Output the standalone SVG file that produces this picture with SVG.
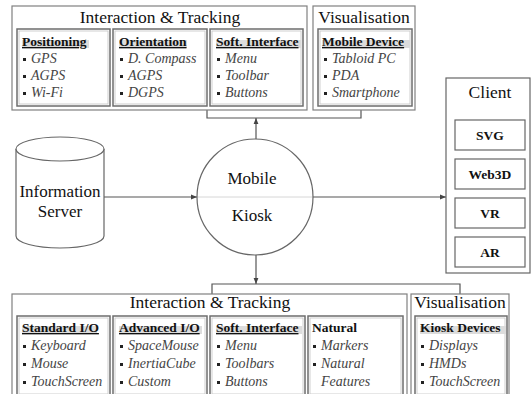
<svg xmlns="http://www.w3.org/2000/svg" width="531" height="394" viewBox="0 0 531 394" font-family="Liberation Serif, DejaVu Serif, serif">
<style>
text{font-family:'Liberation Serif','DejaVu Serif',serif;fill:#111}
.title{font-size:17.5px;text-anchor:middle}
.big{font-size:17px;text-anchor:middle}
.hd{font-size:13.5px;font-weight:bold;text-decoration:underline}
.it{font-size:14px;font-style:italic;fill:#444}
.cl{font-size:13.5px;font-weight:bold;text-anchor:middle}
.box{fill:#fff;stroke:#808080;stroke-width:1.2}
.cell{fill:none;stroke:#6e6e6e;stroke-width:1.5}
.cell2{fill:none;stroke:#c4c4c4;stroke-width:0.8}
.shade{fill:#dcdcdc}
.bul{fill:#222}
.ln{fill:none;stroke:#555;stroke-width:1.2}
.plain{fill:#fff;stroke:#666;stroke-width:1.2}
</style>
<defs>
<marker id="ah" viewBox="0 0 6 6" refX="6" refY="3" markerWidth="6" markerHeight="6" markerUnits="userSpaceOnUse" orient="auto">
<path d="M0,0.6 L6,3 L0,5.4 z" fill="#444"/>
</marker>
</defs>

<g id="connectors">
<line class="ln" x1="104" y1="197" x2="197" y2="197" marker-end="url(#ah)"/>
<line x1="197" y1="197" x2="313" y2="197" stroke="#d6d6d6" stroke-width="1"/>
<line class="ln" x1="313" y1="197" x2="446" y2="197" marker-end="url(#ah)"/>
<line class="ln" x1="256" y1="139" x2="256" y2="118" marker-end="url(#ah)"/>
<polyline class="ln" points="207,110 207,118 361,118 361,110"/>
<line class="ln" x1="256" y1="255" x2="256" y2="284" marker-end="url(#ah)"/>
<polyline class="ln" points="212,294 212,284 460,284 460,295"/>
</g>

<g id="top-interaction">
<rect class="box" x="12" y="6" width="295" height="104"/>
<text class="title" x="160" y="23">Interaction &amp; Tracking</text>
<g id="positioning">
<rect class="cell" x="17" y="29" width="93" height="77"/>
<rect class="cell2" x="19" y="31" width="89" height="73"/>
<rect class="shade" x="22" y="40" width="67" height="8"/>
<text class="hd" x="22" y="46">Positioning</text>
<rect class="bul" x="23" y="58" width="3" height="3"/><text class="it" x="31" y="63">GPS</text>
<rect class="bul" x="23" y="75" width="3" height="3"/><text class="it" x="31" y="80">AGPS</text>
<rect class="bul" x="23" y="92" width="3" height="3"/><text class="it" x="31" y="97">Wi-Fi</text>
</g>
<g id="orientation">
<rect class="cell" x="113" y="29" width="94" height="77"/>
<rect class="cell2" x="115" y="31" width="90" height="73"/>
<rect class="shade" x="119" y="40" width="68" height="8"/>
<text class="hd" x="119" y="46">Orientation</text>
<rect class="bul" x="120" y="58" width="3" height="3"/><text class="it" x="128" y="63">D. Compass</text>
<rect class="bul" x="120" y="75" width="3" height="3"/><text class="it" x="128" y="80">AGPS</text>
<rect class="bul" x="120" y="92" width="3" height="3"/><text class="it" x="128" y="97">DGPS</text>
</g>
<g id="soft-interface-top">
<rect class="cell" x="210" y="29" width="93" height="77"/>
<rect class="cell2" x="212" y="31" width="89" height="73"/>
<rect class="shade" x="216" y="40" width="85" height="8"/>
<text class="hd" x="216" y="46">Soft. Interface</text>
<rect class="bul" x="217" y="58" width="3" height="3"/><text class="it" x="225" y="63">Menu</text>
<rect class="bul" x="217" y="75" width="3" height="3"/><text class="it" x="225" y="80">Toolbar</text>
<rect class="bul" x="217" y="92" width="3" height="3"/><text class="it" x="225" y="97">Buttons</text>
</g>
</g>

<g id="top-visualisation">
<rect class="box" x="313" y="6" width="102" height="104"/>
<text class="title" x="364" y="23">Visualisation</text>
<g id="mobile-device">
<rect class="cell" x="318" y="29" width="94" height="77"/>
<rect class="cell2" x="320" y="31" width="90" height="73"/>
<rect class="shade" x="322" y="40" width="88" height="8"/>
<text class="hd" x="322" y="46">Mobile Device</text>
<rect class="bul" x="324" y="58" width="3" height="3"/><text class="it" x="332" y="63">Tabloid PC</text>
<rect class="bul" x="324" y="75" width="3" height="3"/><text class="it" x="332" y="80">PDA</text>
<rect class="bul" x="324" y="92" width="3" height="3"/><text class="it" x="332" y="97">Smartphone</text>
</g>
</g>

<g id="information-server">
<path class="plain" d="M16,149 L16,236 A44,12 0 0 0 104,236 L104,149"/>
<ellipse class="plain" cx="60" cy="149" rx="44" ry="12"/>
<text class="big" x="60" y="197">Information</text>
<text class="big" x="60" y="217">Server</text>
</g>

<g id="mobile-kiosk">
<circle fill="none" stroke="#666" stroke-width="1.2" cx="255" cy="197" r="58"/>
<text class="big" x="252" y="184">Mobile</text>
<text class="big" x="252" y="221">Kiosk</text>
</g>

<g id="client">
<rect class="plain" x="446" y="78" width="84" height="195"/>
<text class="title" x="490" y="98">Client</text>
<rect class="plain" x="455" y="120" width="70" height="30"/><text class="cl" x="490" y="140">SVG</text>
<rect class="plain" x="455" y="159" width="70" height="30"/><text class="cl" x="490" y="179">Web3D</text>
<rect class="plain" x="455" y="198" width="70" height="30"/><text class="cl" x="490" y="218">VR</text>
<rect class="plain" x="455" y="237" width="70" height="30"/><text class="cl" x="490" y="257">AR</text>
</g>

<g id="bottom-interaction">
<rect class="box" x="12" y="294" width="395" height="110"/>
<text class="title" x="210" y="308">Interaction &amp; Tracking</text>
<g id="standard-io">
<rect class="cell" x="17" y="316" width="93" height="80"/>
<rect class="cell2" x="19" y="318" width="89" height="76"/>
<rect class="shade" x="22" y="326" width="75" height="8"/>
<text class="hd" x="22" y="332">Standard I/O</text>
<rect class="bul" x="23" y="345" width="3" height="3"/><text class="it" x="31" y="350">Keyboard</text>
<rect class="bul" x="23" y="363" width="3" height="3"/><text class="it" x="31" y="368">Mouse</text>
<rect class="bul" x="23" y="381" width="3" height="3"/><text class="it" x="31" y="386">TouchScreen</text>
</g>
<g id="advanced-io">
<rect class="cell" x="113" y="316" width="94" height="80"/>
<rect class="cell2" x="115" y="318" width="90" height="76"/>
<rect class="shade" x="119" y="326" width="83" height="8"/>
<text class="hd" x="119" y="332">Advanced I/O</text>
<rect class="bul" x="120" y="345" width="3" height="3"/><text class="it" x="128" y="350">SpaceMouse</text>
<rect class="bul" x="120" y="363" width="3" height="3"/><text class="it" x="128" y="368">InertiaCube</text>
<rect class="bul" x="120" y="381" width="3" height="3"/><text class="it" x="128" y="386">Custom</text>
</g>
<g id="soft-interface-bottom">
<rect class="cell" x="210" y="316" width="95" height="80"/>
<rect class="cell2" x="212" y="318" width="91" height="76"/>
<rect class="shade" x="216" y="326" width="86" height="8"/>
<text class="hd" x="216" y="332">Soft. Interface</text>
<rect class="bul" x="217" y="345" width="3" height="3"/><text class="it" x="225" y="350">Menu</text>
<rect class="bul" x="217" y="363" width="3" height="3"/><text class="it" x="225" y="368">Toolbars</text>
<rect class="bul" x="217" y="381" width="3" height="3"/><text class="it" x="225" y="386">Buttons</text>
</g>
<g id="natural">
<rect class="cell" x="308" y="316" width="95" height="80"/>
<rect class="cell2" x="310" y="318" width="91" height="76"/>
<text class="hd" x="312" y="332" style="text-decoration:none">Natural</text>
<rect class="bul" x="313" y="345" width="3" height="3"/><text class="it" x="321" y="350">Markers</text>
<rect class="bul" x="313" y="363" width="3" height="3"/><text class="it" x="321" y="368">Natural</text>
<text class="it" x="321" y="386">Features</text>
</g>
</g>

<g id="bottom-visualisation">
<rect class="box" x="411" y="294" width="98" height="110"/>
<text class="title" x="460" y="308">Visualisation</text>
<g id="kiosk-devices">
<rect class="cell" x="415" y="316" width="92" height="80"/>
<rect class="cell2" x="417" y="318" width="88" height="76"/>
<rect class="shade" x="420" y="326" width="86" height="8"/>
<text class="hd" x="420" y="332" style="text-decoration:none">Kiosk Devices</text>
<rect class="bul" x="421" y="345" width="3" height="3"/><text class="it" x="429" y="350">Displays</text>
<rect class="bul" x="421" y="363" width="3" height="3"/><text class="it" x="429" y="368">HMDs</text>
<rect class="bul" x="421" y="381" width="3" height="3"/><text class="it" x="429" y="386">TouchScreen</text>
</g>
</g>
</svg>
